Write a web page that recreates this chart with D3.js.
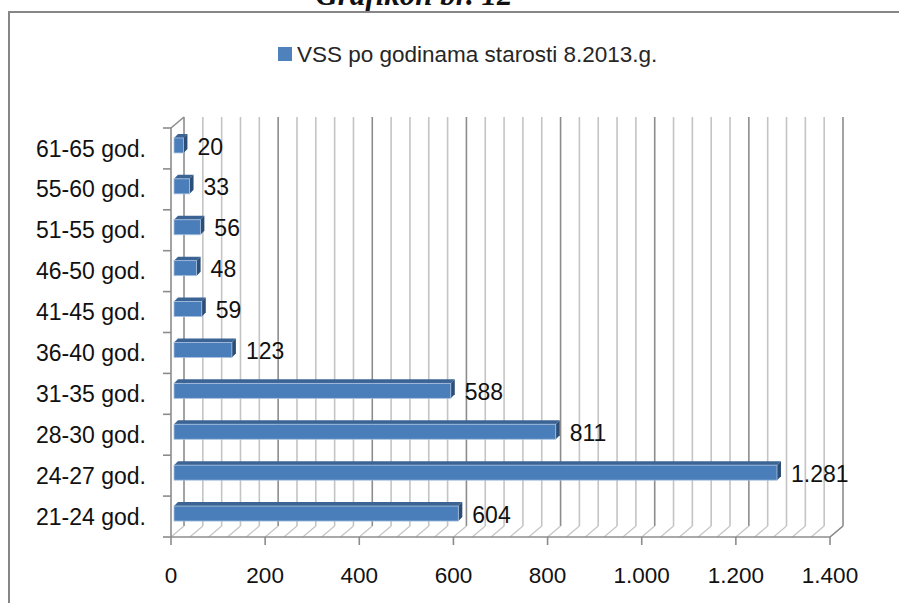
<!DOCTYPE html>
<html>
<head>
<meta charset="utf-8">
<script src="https://cdn.jsdelivr.net/npm/d3@7"></script>
<style>
  body { margin: 0; background: #fff; }
  text { font-family: "Liberation Sans", Arial, sans-serif; fill: #111; }
</style>
</head>
<body>
<svg id="chart"></svg>
<script>
  // data, bottom to top as in the picture
  var categories = ["21-24 god.", "24-27 god.", "28-30 god.", "31-35 god.", "36-40 god.",
                    "41-45 god.", "46-50 god.", "51-55 god.", "55-60 god.", "61-65 god."];
  var values = [604, 1281, 811, 588, 123, 59, 48, 56, 33, 20];
  var xTicks = [0, 200, 400, 600, 800, 1000, 1200, 1400];
  var seriesName = "VSS po godinama starosti 8.2013.g.";

  var w = 899;
  var h = 603;
  var depth = { dx: 13, dy: -11 };
  var barDepth = 4;

  var svg = d3.select("#chart")
    .attr("width", w)
    .attr("height", h);

  svg.append("rect").attr("width", w).attr("height", h).attr("fill", "#fff");

  // title above the frame (cut off in the original)
  svg.append("text")
    .attr("x", 414)
    .attr("y", 5)
    .attr("text-anchor", "middle")
    .style("font-family", "'Liberation Serif', 'Times New Roman', serif")
    .style("font-weight", "bold")
    .style("font-style", "italic")
    .style("font-size", "31px")
    .text("Grafikon br. 12");

  // chart area border
  svg.append("rect")
    .attr("x", 9)
    .attr("y", 12)
    .attr("width", 900)
    .attr("height", 600)
    .attr("fill", "none")
    .attr("stroke", "#868686")
    .attr("stroke-width", 2);

  // legend
  svg.append("rect")
    .attr("x", 278).attr("y", 47)
    .attr("width", 14).attr("height", 14)
    .attr("fill", "#4F81BD");
  svg.append("text")
    .attr("x", 297).attr("y", 54)
    .attr("dy", "0.35em")
    .style("font-size", "22.5px")
    .style("fill", "#262626")
    .text(seriesName);

  var xScale = d3.scaleLinear()
    .domain([0, 1400])
    .range([171, 830]);

  var yScale = d3.scaleBand()
    .domain(categories)
    .range([537, 128]);

  var y0 = yScale.range()[0], y1 = yScale.range()[1];
  var fmt = function(v) { return d3.format(",")(v).replace(/,/g, "."); };

  var grid = d3.range(0, 1401, 40);

  // back wall gridlines
  svg.append("g").selectAll("line")
    .data(grid)
    .join("line")
    .attr("x1", function(d){ return xScale(d) + depth.dx; })
    .attr("x2", function(d){ return xScale(d) + depth.dx; })
    .attr("y1", y1 + depth.dy)
    .attr("y2", y0 + depth.dy)
    .attr("stroke", function(d){ return d % 200 === 0 ? "#8c8c8c" : "#c4c4c4"; })
    .attr("stroke-width", 1.6);

  // floor gridlines
  svg.append("g").selectAll("line")
    .data(grid)
    .join("line")
    .attr("x1", function(d){ return xScale(d); })
    .attr("x2", function(d){ return xScale(d) + depth.dx; })
    .attr("y1", y0)
    .attr("y2", y0 + depth.dy)
    .attr("stroke", "#c4c4c4")
    .attr("stroke-width", 1.2);

  // frame edges
  var frame = svg.append("g").attr("stroke", "#8c8c8c").attr("stroke-width", 1.6).attr("fill", "none");
  frame.append("line").attr("x1", xScale(0)).attr("x2", xScale(1400)).attr("y1", y0).attr("y2", y0);
  frame.append("line").attr("x1", xScale(0)).attr("x2", xScale(0)).attr("y1", y1).attr("y2", y0);
  frame.append("line").attr("x1", xScale(0)).attr("x2", xScale(0) + depth.dx).attr("y1", y1).attr("y2", y1 + depth.dy);
  frame.append("line").attr("x1", xScale(1400)).attr("x2", xScale(1400) + depth.dx).attr("y1", y0).attr("y2", y0 + depth.dy);

  // category ticks on the left wall
  var bounds = categories.map(function(c){ return yScale(c); }).concat([y0]);
  frame.selectAll(".ytick")
    .data(bounds)
    .join("line")
    .attr("x1", xScale(0) - 8).attr("x2", xScale(0))
    .attr("y1", function(d){ return d; }).attr("y2", function(d){ return d; });

  // value ticks below the floor
  frame.selectAll(".xtick")
    .data(xTicks)
    .join("line")
    .attr("x1", function(d){ return xScale(d); }).attr("x2", function(d){ return xScale(d); })
    .attr("y1", y0).attr("y2", y0 + 8);

  // tick labels
  svg.append("g").selectAll("text")
    .data(xTicks)
    .join("text")
    .attr("x", function(d){ return xScale(d); })
    .attr("y", 575)
    .attr("dy", "0.35em")
    .attr("text-anchor", "middle")
    .style("font-size", "22.5px")
    .text(fmt);

  svg.append("g").selectAll("text")
    .data(categories)
    .join("text")
    .attr("x", 146)
    .attr("y", function(d){ return yScale(d) + yScale.bandwidth() / 2; })
    .attr("dy", "0.35em")
    .attr("text-anchor", "end")
    .style("font-size", "23px")
    .text(function(d){ return d; });

  // 3D bars
  var rows = categories.map(function(c, i){ return { cat: c, value: values[i] }; });
  var barH = 15;
  var bars = svg.append("g").selectAll("g")
    .data(rows)
    .join("g");

  function geo(d) {
    var xa = xScale(0) + 3, xb = xScale(d.value) + 3;
    var ya = yScale(d.cat) + yScale.bandwidth() / 2 - 3 - barH / 2;
    return { xa: xa, xb: xb, ya: ya };
  }

  bars.append("polygon")
    .attr("points", function(d){
      var g = geo(d);
      return [[g.xa, g.ya], [g.xa + barDepth, g.ya - barDepth], [g.xb + barDepth, g.ya - barDepth], [g.xb, g.ya]].join(" ");
    })
    .attr("fill", "#3b6494");

  bars.append("polygon")
    .attr("points", function(d){
      var g = geo(d);
      return [[g.xb, g.ya], [g.xb + barDepth, g.ya - barDepth], [g.xb + barDepth, g.ya - barDepth + barH], [g.xb, g.ya + barH]].join(" ");
    })
    .attr("fill", "#2c4d75");

  bars.append("rect")
    .attr("x", function(d){ return geo(d).xa; })
    .attr("y", function(d){ return geo(d).ya; })
    .attr("width", function(d){ var g = geo(d); return g.xb - g.xa; })
    .attr("height", barH)
    .attr("fill", "#4a7ebb")
    .attr("stroke", "#a7c0de")
    .attr("stroke-width", 0.8);

  bars.append("text")
    .attr("x", function(d){ return xScale(d.value) + 17; })
    .attr("y", function(d){ return yScale(d.cat) + yScale.bandwidth() / 2 - 2; })
    .attr("dy", "0.35em")
    .style("font-size", "23px")
    .text(function(d){ return fmt(d.value); });
</script>
</body>
</html>
